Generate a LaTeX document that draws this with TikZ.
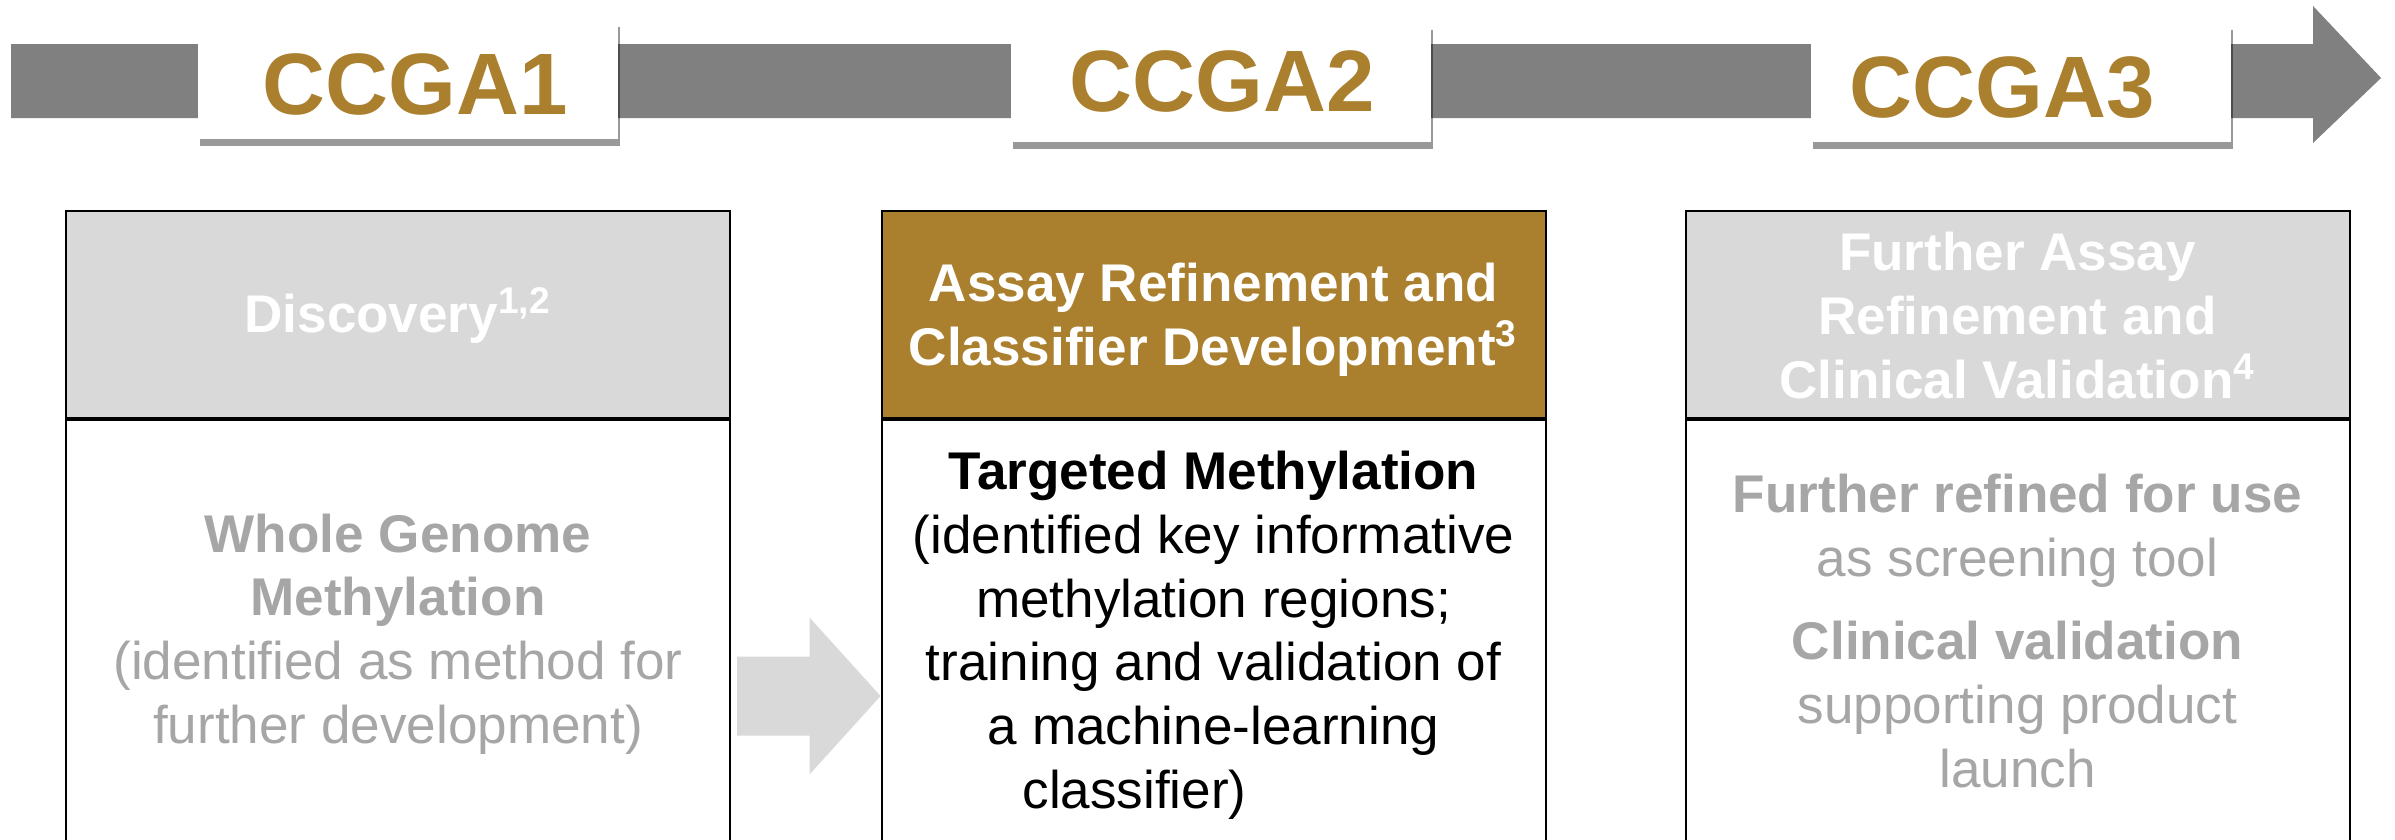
\documentclass[tikz,border=0pt]{standalone}
\usepackage{fontspec}
\setmainfont{Liberation Sans}
\usepackage{tikz}
\usetikzlibrary{calc}
\usetikzlibrary{shadows}
\definecolor{gold}{RGB}{170,128,46}
\definecolor{bar}{RGB}{128,128,128}
\definecolor{pale}{RGB}{217,217,217}
\definecolor{dim}{RGB}{166,166,166}
\tikzset{t/.style={font=\fontsize{24.8}{24.8}\selectfont\bfseries,text=gold,inner sep=0}}
\tikzset{b/.style={font=\fontsize{15.1}{18.1}\selectfont,align=center,inner sep=0,anchor=base}}
\tikzset{tag/.style={fill=white,minimum width=42mm,minimum height=11.9mm,inner sep=0,
  drop shadow={shadow xshift=0.2mm,shadow yshift=-0.7mm,fill=black,opacity=0.4}}}
\tikzset{hd/.style={draw=black,line width=0.2mm,minimum width=66.4mm,minimum height=20.7mm,inner sep=0}}
\tikzset{bd/.style={draw=black,line width=0.2mm,fill=white,minimum width=66.4mm,minimum height=55.2mm,inner sep=0,anchor=north}}

\begin{document}
\begin{tikzpicture}[x=0.1mm,y=-0.1mm]
        \useasboundingbox (0,0) rectangle (2395,839);
        \clip (0,0) rectangle (2395,839);
        % timeline
        \fill[bar] (11,44) -- (2313,44) -- (2313,6) -- (2381,78) -- (2313,143)
          -- (2313,118) -- (11,118) -- cycle;
        \node[tag] (c1) at (408,79.5) {};
        \node[tag] (c2) at (1221,82.5) {};
        \node[tag] (c3) at (2020.5,82.5) {};
        \node[t,anchor=base] at ($(c1.center)+(7,34.5)$) {CCGA1};
        \node[t,anchor=base] at ($(c2.center)+(1,29)$) {CCGA2};
        \node[t,anchor=base] at ($(c3.center)+(-18,34.5)$) {CCGA3};
        % phase columns
        \node[hd,fill=pale] (h1) at (398,314.5) {};
        \node[hd,fill=gold] (h2) at (1213.5,314.5) {};
        \node[hd,fill=pale] (h3) at (2017.5,314.5) {};
        \node[bd] (b1) at (h1.south) {};
        \node[bd] (b2) at (h2.south) {};
        \node[bd] (b3) at (h3.south) {};
        % base anchor sits on the last line
        \begin{scope}[b]
          \node[text=white,font=\fontsize{15.1}{18.1}\selectfont\bfseries] at (398,332) {Discovery\textsuperscript{1,2}};
          \node[text=white,font=\fontsize{15.1}{18.1}\selectfont\bfseries] at (1213.5,365)
            {Assay Refinement and\\Classifier Development\textsuperscript{3}};
          \node[text=white,font=\fontsize{15.1}{18.1}\selectfont\bfseries] at (2017.5,398)
            {Further Assay\\Refinement and\\Clinical Validation\textsuperscript{4}};
          \node[text=dim] at (398,743)
            {\textbf{Whole Genome}\\\textbf{Methylation}\\(identified as method for\\further development)};
          \node[text=black] at (1213.5,808)
            {\textbf{Targeted Methylation}\\(identified key informative\\methylation regions;\\training and validation of\\a machine-learning\\classifier)\hspace*{15.8mm}};
          \node[text=dim] at (2017.5,787)
            {\textbf{Further refined for use}\\as screening tool\\[2mm]\textbf{Clinical validation}\\supporting product\\launch};
        \end{scope}
        % step arrow
        \fill[pale] ($(b1.east)+(6,-39.5)$) -- ($(b2.west)+(-71,-39.5)$) -- ($(b2.west)+(-71,-78.5)$)
          -- (b2.west) -- ($(b2.west)+(-71,78.5)$) -- ($(b2.west)+(-71,39.5)$)
          -- ($(b1.east)+(6,39.5)$) -- cycle;
      \end{tikzpicture}
\end{document}
